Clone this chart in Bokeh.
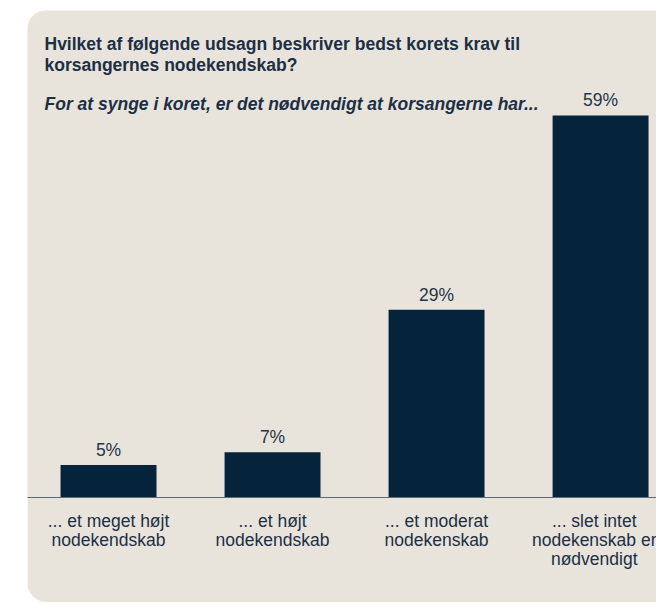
from bokeh.plotting import figure
from bokeh.models import Range1d, FixedTicker, Label, LabelSet, ColumnDataSource
from bokeh.core.properties import value
from bokeh.embed import file_html
from bokeh.resources import INLINE

# ---- data ----
categories = [
    "... et meget højt\nnodekendskab",
    "... et højt\nnodekendskab",
    "... et moderat\nnodekenskab",
    "... slet intet\nnodekenskab er\nnødvendigt",
]
values = [5, 7, 29, 59]
value_labels = ["5%", "7%", "29%", "59%"]
title_lines = [
    "Hvilket af følgende udsagn beskriver bedst korets krav til",
    "korsangernes nodekendskab?",
]
subtitle = "For at synge i koret, er det nødvendigt at korsangerne har..."

# ---- style ----
PANEL = "#e9e4db"
BAR = "#05233b"
TEXT = "#1c2f45"
FONT = "Liberation Sans"
FS = "17.5px"

positions = list(range(len(categories)))
src = ColumnDataSource(dict(x=positions, top=values, lab=value_labels))

p = figure(
    width=629, height=592,
    x_range=Range1d(-0.494, 3.341), y_range=Range1d(0, 75.2),
    output_backend="svg", toolbar_location=None,
    y_axis_location=None,
    min_border_left=0, min_border_right=0, min_border_top=0, min_border_bottom=105,
    background_fill_color=PANEL, border_fill_color=PANEL,
    outline_line_color=None,
    margin=(10, 0, 0, 27),
    styles={"border-radius": "20px 0 0 20px", "overflow": "hidden"},
)
p.grid.visible = False

p.vbar(x="x", top="top", bottom=0, width=0.585, source=src,
       fill_color=BAR, line_color=None)

p.add_layout(LabelSet(x="x", y="top", text="lab", source=src, y_offset=9,
                      text_align="center", text_baseline="alphabetic",
                      text_font=value(FONT), text_font_size=value(FS),
                      text_color=value("#243548")))

ax = p.xaxis[0]
ax.ticker = FixedTicker(ticks=positions)
ax.major_label_overrides = {i: c for i, c in zip(positions, categories)}
ax.major_tick_line_color = None
ax.minor_tick_line_color = None
ax.axis_line_color = "#5d6b78"
ax.axis_line_width = 1.2
ax.major_label_text_font = FONT
ax.major_label_text_font_size = FS
ax.major_label_text_color = TEXT
ax.major_label_standoff = 7
ax.major_label_text_line_height = 0.95

for i, line in enumerate(title_lines):
    p.add_layout(Label(x=17, y=454 - 21 * i, x_units="screen", y_units="screen",
                       text=line, text_font=FONT, text_font_size=FS,
                       text_font_style="bold", text_color=TEXT,
                       text_baseline="alphabetic"))
p.add_layout(Label(x=17, y=394, x_units="screen", y_units="screen",
                   text=subtitle, text_font=FONT, text_font_size=FS,
                   text_font_style="bold italic", text_color=TEXT,
                   text_baseline="alphabetic"))

open("out.html", "w").write(file_html(p, INLINE))
